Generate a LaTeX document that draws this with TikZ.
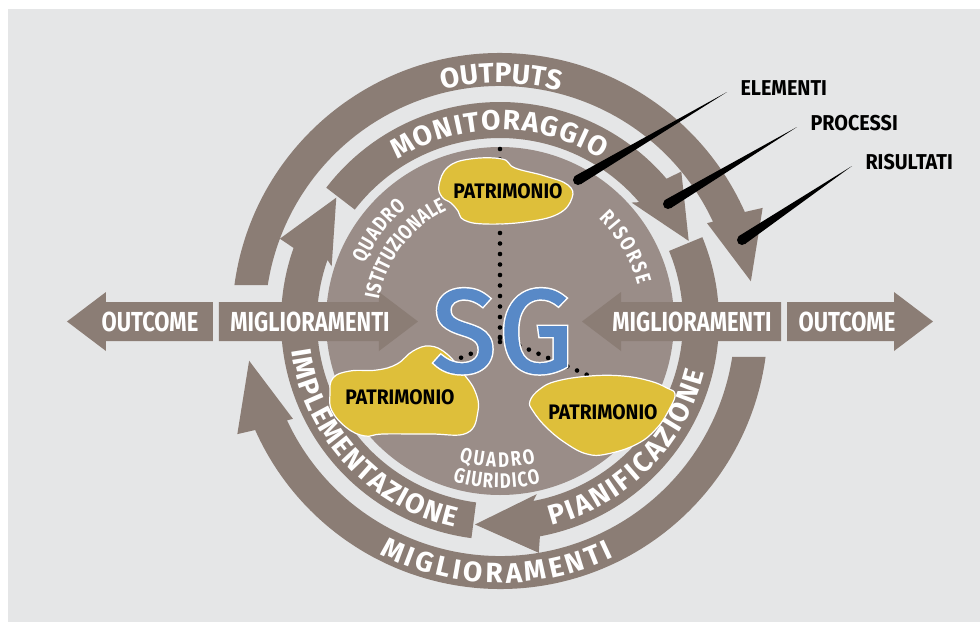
\documentclass[tikz,border=0pt]{standalone}
\usepackage{fontspec}
\setmainfont{Fira Sans}
\newfontfamily\narrowfont{Fira Sans}[FakeStretch=0.8]
\newfontfamily\labelfont{Fira Sans}[FakeStretch=0.92]
\newfontfamily\sgfont{Fira Sans}[FakeBold=1.5]
\newfontfamily\sgrimfont{Fira Sans}[FakeBold=4]
\usetikzlibrary{calc, decorations.text}
\definecolor{paper}{HTML}{E5E6E7}
\definecolor{ring}{HTML}{8B7D75}
\definecolor{disk}{HTML}{9A8D88}
\definecolor{gold}{HTML}{DEBF3A}
\definecolor{sgblue}{HTML}{5889C7}
\newcommand{\pointerwedge}[2]{
   \coordinate (ptip) at ($ (#1.west)+(-10,-4) $);
   \fill ($ (#2)!5pt!90:(ptip) $) -- (ptip) -- ($ (#2)!5pt!-90:(ptip) $) -- cycle;
   \fill (#2) circle (5);
}
\tikzset{ringtext/.style={decorate, decoration={text along path, text align=fit to path, text color=white, text={|\fontsize{28}{28}\selectfont\bfseries|#1}}}}
\tikzset{disktext/.style={decorate, decoration={text along path, text align=fit to path, text color=white, text={|\narrowfont\fontsize{21}{21}\selectfont\bfseries|#1}}}}
\tikzset{hlabel/.style={text=white, font=\narrowfont\fontsize{27.5}{27.5}\selectfont\bfseries}}
\tikzset{blob/.style={fill=gold, draw=white, line width=1.2}}
\tikzset{patlabel/.style={font=\labelfont\fontsize{21}{21}\selectfont\bfseries}}
\tikzset{sidelabel/.style={font=\labelfont\fontsize{21.5}{21.5}\selectfont\bfseries, anchor=west}}
\tikzset{dotline/.style={line width=4.6, line cap=round, dash pattern=on 0pt off 10.5pt}}
\tikzset{sgletter/.style={font=\sgfont\fontsize{118}{118}\selectfont, anchor=base, text=sgblue}}
\tikzset{sgrim/.style={font=\sgrimfont\fontsize{118}{118}\selectfont, anchor=base, text=white}}

\begin{document}
\begin{tikzpicture}[x=1pt, y=1pt]
		% Frame
		\useasboundingbox (-500,-301) rectangle (480,321);
		\fill[white] (-500,-301) rectangle (480,321);
		\fill[paper] (-492,-301) rectangle (480,312);

		% Disk
		\fill[disk] (0,0) circle (174);

		% Dots
		\draw[dotline] (0,172) -- (0,-21);
		\draw[dotline] (0,-21) -- (-52,-42);
		\draw[dotline] (0,-16) -- (92,-56);

		% Middle ring
		\foreach \r in {0,-120,-240}
			\fill[ring, rotate=\r] (142.5:219) arc[start angle=142.5, end angle=40.5, radius=219] -- (39.5:235) -- (23:205) -- (42:177) -- (40.5:183) arc[start angle=40.5, end angle=142.5, radius=183] -- cycle;

		% Outer ring
		\foreach \r in {0,180}
			\fill[ring, rotate=\r] (172.3:268) arc[start angle=172.3, end angle=24, radius=268] -- (23.3:286) -- (9:254) -- (25.3:229) -- (25:235) arc[start angle=25, end angle=171.2, radius=235] -- cycle;

		% Horizontal arrows
		\foreach \s in {1,-1} {
			\fill[ring, xscale=\s] (-287,19) -- (-394,19) -- (-394,29) -- (-433,-0.5) -- (-394,-30) -- (-394,-20) -- (-287,-20) -- cycle;
			\fill[ring, xscale=\s] (-281,19) -- (-121,19) -- (-121,29) -- (-82,-0.5) -- (-121,-30) -- (-121,-20) -- (-281,-20) -- cycle;
		}
		\node[hlabel] (outl) at (-350,-1) {OUTCOME};
		\node[hlabel] (migl) at (-190,-1) {MIGLIORAMENTI};
		\node[hlabel] (migr) at (192,-1) {MIGLIORAMENTI};
		\node[hlabel] (outr) at (347,-1) {OUTCOME};

		% Ring texts
		\path[ringtext=OUTPUTS] (104:238) arc[start angle=104, end angle=76, radius=238];
		\path[ringtext=MONITORAGGIO] (122.5:191) arc[start angle=122.5, end angle=58, radius=191];
		\path[ringtext=PIANIFICAZIONE] (-76:211) arc[start angle=-76, end angle=-14, radius=211];
		\path[ringtext=IMPLEMENTAZIONE] (188:211) arc[start angle=188, end angle=257.5, radius=211];
		\path[ringtext=MIGLIORAMENTI] (242.7:262) arc[start angle=242.7, end angle=295.8, radius=262];

		% Disk texts
		\path[disktext=QUADRO] (157:147) arc[start angle=157, end angle=129.5, radius=147];
		\path[disktext=ISTITUZIONALE] (170:123) arc[start angle=170, end angle=115.5, radius=123];
		\path[disktext=RISORSE] (46:142) arc[start angle=46, end angle=14.5, radius=142];
		\path[disktext=QUADRO] (253.7:146) arc[start angle=253.7, end angle=284.2, radius=146];
		\path[disktext=GIURIDICO] (253.5:167) arc[start angle=253.5, end angle=284.1, radius=167];

		% Patrimonio
		\draw[blob] plot[smooth cycle, tension=0.7] coordinates {(-61,136) (-52,154) (-30,162) (2,162) (15,153) (45,145) (68,136) (72,123) (58,107) (25,99) (-15,97) (-36,101) (-42,110) (-49,118) (-58,124)};
		\draw[blob] plot[smooth cycle, tension=0.7] coordinates {(-70,-25) (-53,-33) (-37,-52) (-25,-70) (-22,-90) (-33,-112) (-70,-113) (-117,-113) (-135,-115) (-153,-107) (-168,-90) (-170,-73) (-167,-57) (-150,-50) (-123,-49) (-103,-43) (-87,-30)};
		\draw[blob] plot[smooth cycle, tension=0.7] coordinates {(30,-80) (40,-68) (57,-60) (90,-55) (123,-55) (150,-60) (167,-67) (175,-73) (170,-87) (157,-107) (137,-123) (107,-133) (87,-133) (67,-123) (47,-107) (33,-90)};
		\node[patlabel] (patA) at (8,130) {PATRIMONIO};
		\node[patlabel] (patB) at (-100,-76) {PATRIMONIO};
		\node[patlabel] (patC) at (103,-91) {PATRIMONIO};

		% SG
		\node[sgrim] (rimS) at (-36,-51) {S};
		\node[sgrim] (rimG) at (36,-51) {G};
		\node[sgletter] (sS) at (-36,-51) {S};
		\node[sgletter] (sG) at (36,-51) {G};

		% Labels
		\node[sidelabel] (elementi) at (237,233) {ELEMENTI};
		\node[sidelabel] (processi) at (307,198) {PROCESSI};
		\node[sidelabel] (risultati) at (362,159) {RISULTATI};
		\coordinate (elspot) at (78,141);
		\coordinate (prspot) at (168,117);
		\coordinate (rispot) at (242,81);
		\pointerwedge{elementi}{elspot}
		\pointerwedge{processi}{prspot}
		\pointerwedge{risultati}{rispot}
	\end{tikzpicture}
\end{document}
